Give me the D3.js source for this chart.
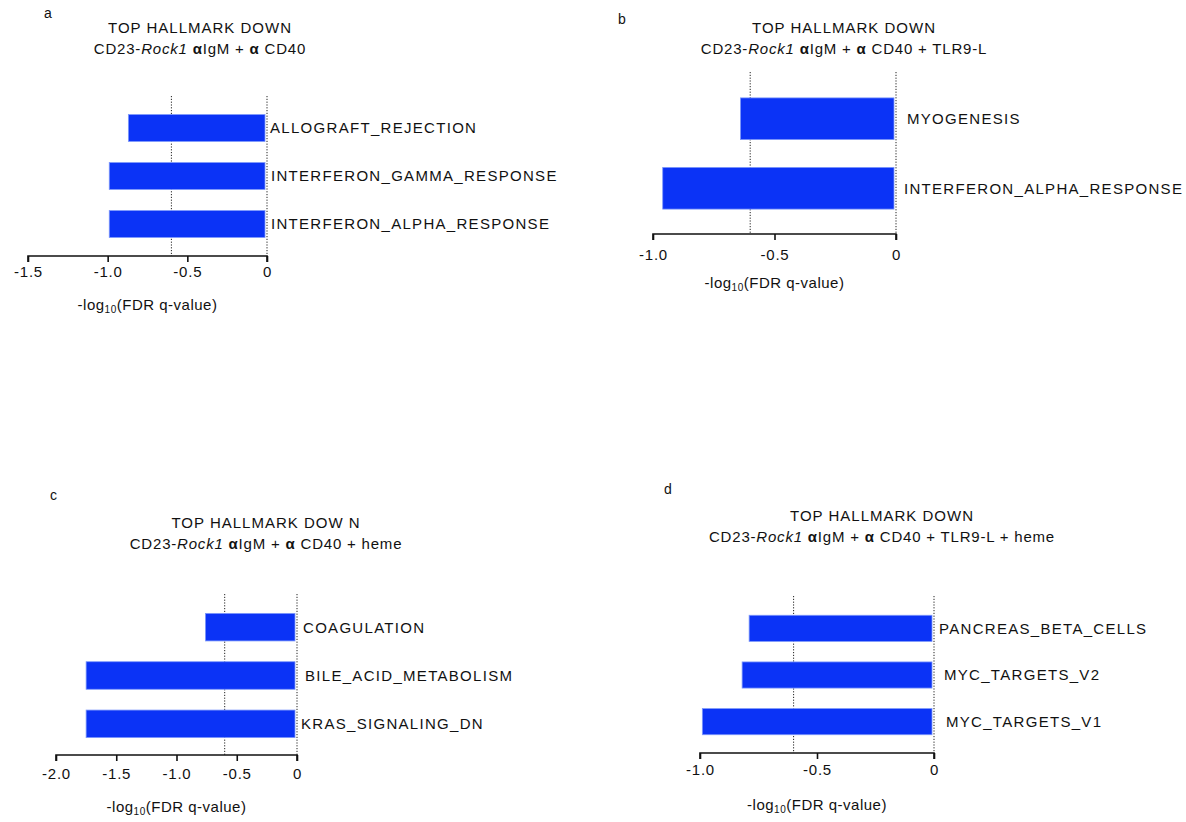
<!DOCTYPE html>
<html>
<head>
<meta charset="utf-8">
<script src="https://cdn.jsdelivr.net/npm/d3@7"></script>
<style>
  body { margin: 0; background: #fff; }
  text { font-family: 'Liberation Sans', Arial, Helvetica, sans-serif; fill: #111; }
</style>
</head>
<body>
<div id="chart"></div>
<script>
// data
const termsA = ['ALLOGRAFT_REJECTION', 'INTERFERON_GAMMA_RESPONSE', 'INTERFERON_ALPHA_RESPONSE']
const valuesA = [-0.87, -0.99, -0.99]
const ticksA = [-1.5, -1.0, -0.5, 0]

const termsB = ['MYOGENESIS', 'INTERFERON_ALPHA_RESPONSE']
const valuesB = [-0.64, -0.96]
const ticksB = [-1.0, -0.5, 0]

const termsC = ['COAGULATION', 'BILE_ACID_METABOLISM', 'KRAS_SIGNALING_DN']
const valuesC = [-0.76, -1.75, -1.75]
const ticksC = [-2.0, -1.5, -1.0, -0.5, 0]

const termsD = ['PANCREAS_BETA_CELLS', 'MYC_TARGETS_V2', 'MYC_TARGETS_V1']
const valuesD = [-0.79, -0.82, -0.99]
const ticksD = [-1.0, -0.5, 0]

const threshold = -0.6   // dotted reference line (FDR 0.25)
const extrasA = ''
const extrasB = ' + TLR9-L'
const extrasC = ' + heme'
const extrasD = ' + TLR9-L + heme'

const width = 1186, height = 822
const barColor = '#0b33f6'

const svg = d3.select('#chart').append('svg')
  .attr('width', width)
  .attr('height', height)

const panels = [
  {letter: 'a', lx: 44, ly: 18, title: 'TOP HALLMARK DOWN', extra: extrasA, tx: 200, ty: 33,
    terms: termsA, values: valuesA, ticks: ticksA, domain: [-1.5, 0], xr: [28, 267],
    yr: [104, 248], pad: 0.44, axisY: 256, dotTop: 96, labelDx: [3, 4, 4], tickPad: 4, titleDy: 54},
  {letter: 'b', lx: 618, ly: 24, title: 'TOP HALLMARK DOWN', extra: extrasB, tx: 844, ty: 33,
    terms: termsB, values: valuesB, ticks: ticksB, domain: [-1.0, 0], xr: [653, 896],
    yr: [84, 223], pad: 0.4, axisY: 234, dotTop: 72, labelDx: [11, 8], tickPad: 9, titleDy: 54},
  {letter: 'c', lx: 50, ly: 500, title: 'TOP HALLMARK DOW N', extra: extrasC, tx: 266, ty: 528,
    terms: termsC, values: valuesC, ticks: ticksC, domain: [-2.0, 0], xr: [56, 297],
    yr: [603, 748], pad: 0.43, axisY: 755, dotTop: 594, labelDx: [6, 8, 4], tickPad: 7, titleDy: 57},
  {letter: 'd', lx: 664, ly: 494, title: 'TOP HALLMARK DOWN', extra: extrasD, tx: 882, ty: 521,
    terms: termsD, values: valuesD, ticks: ticksD, domain: [-1.0, 0], xr: [700, 934],
    yr: [605, 745], pad: 0.44, axisY: 753, dotTop: 596, labelDx: [5, 10, 12], tickPad: 5, titleDy: 57}
]

panels.forEach(p => {
  const g = svg.append('g')

  g.append('text')
    .attr('x', p.lx).attr('y', p.ly)
    .style('font-size', '14px')
    .text(p.letter)

  // two-line title
  g.append('text')
    .attr('x', p.tx).attr('y', p.ty)
    .attr('text-anchor', 'middle')
    .style('font-size', '15px')
    .style('letter-spacing', '1px')
    .text(p.title)
  const sub = g.append('text')
    .attr('x', p.tx).attr('y', p.ty + 21)
    .attr('text-anchor', 'middle')
    .style('font-size', '15px')
    .style('letter-spacing', '0.8px')
  sub.append('tspan').text('CD23-')
  sub.append('tspan').style('font-style', 'italic').text('Rock1')
  sub.append('tspan').text(' ')
  sub.append('tspan').style('font-weight', 'bold').text('α')
  sub.append('tspan').text('IgM + ')
  sub.append('tspan').style('font-weight', 'bold').text('α')
  sub.append('tspan').text(' CD40' + p.extra)

  const x = d3.scaleLinear().domain(p.domain).range(p.xr)
  const y = d3.scaleBand().domain(p.terms).range(p.yr).paddingInner(p.pad).paddingOuter(p.pad / 2)

  // dotted reference lines at threshold and 0
  g.selectAll('.ref').data([threshold, 0])
    .enter().append('line')
    .attr('x1', d => x(d)).attr('x2', d => x(d))
    .attr('y1', p.dotTop).attr('y2', p.axisY)
    .attr('stroke', '#222')
    .attr('stroke-width', 1)
    .attr('stroke-dasharray', '1.2,1.6')

  const rows = p.terms.map((t, i) => ({term: t, value: p.values[i], dx: p.labelDx[i]}))

  g.selectAll('.bar').data(rows)
    .enter().append('rect')
    .attr('x', d => x(d.value))
    .attr('y', d => y(d.term))
    .attr('width', d => x(0) - x(d.value) - 2)
    .attr('height', y.bandwidth())
    .attr('fill', barColor)
    .attr('stroke', '#7d98fb')
    .attr('stroke-width', 0.8)

  g.selectAll('.lab').data(rows)
    .enter().append('text')
    .attr('x', d => x(0) + d.dx)
    .attr('y', d => y(d.term) + y.bandwidth() / 2)
    .attr('dy', '0.36em')
    .style('font-size', '15px')
    .style('letter-spacing', '1.3px')
    .text(d => d.term)

  const xAxis = d3.axisBottom(x)
    .tickValues(p.ticks)
    .tickSize(6)
    .tickPadding(p.tickPad)
    .tickFormat(d => d === 0 ? '0' : d.toFixed(1))
  const ax = g.append('g')
    .attr('transform', `translate(0, ${p.axisY})`)
    .call(xAxis)
  ax.select('.domain').attr('stroke', '#111').attr('stroke-width', 1.6)
    .attr('d', `M${p.xr[0]},6V0H${p.xr[1]}V6`)
  ax.selectAll('.tick line').attr('stroke', '#111').attr('stroke-width', 1.6)
  ax.selectAll('.tick text')
    .style('font-family', "'Liberation Sans', Arial, sans-serif")
    .style('font-size', '15px')
    .style('letter-spacing', '0.8px')
    .attr('fill', '#111')

  // axis title with subscript
  const at = g.append('text')
    .attr('x', (p.xr[0] + p.xr[1]) / 2)
    .attr('y', p.axisY + p.titleDy)
    .attr('text-anchor', 'middle')
    .style('font-size', '15px')
    .style('letter-spacing', '0.5px')
  at.append('tspan').text('-log')
  at.append('tspan').attr('dy', 3).style('font-size', '10px').text('10')
  at.append('tspan').attr('dy', -3).text('(FDR q-value)')
})
</script>
</body>
</html>
